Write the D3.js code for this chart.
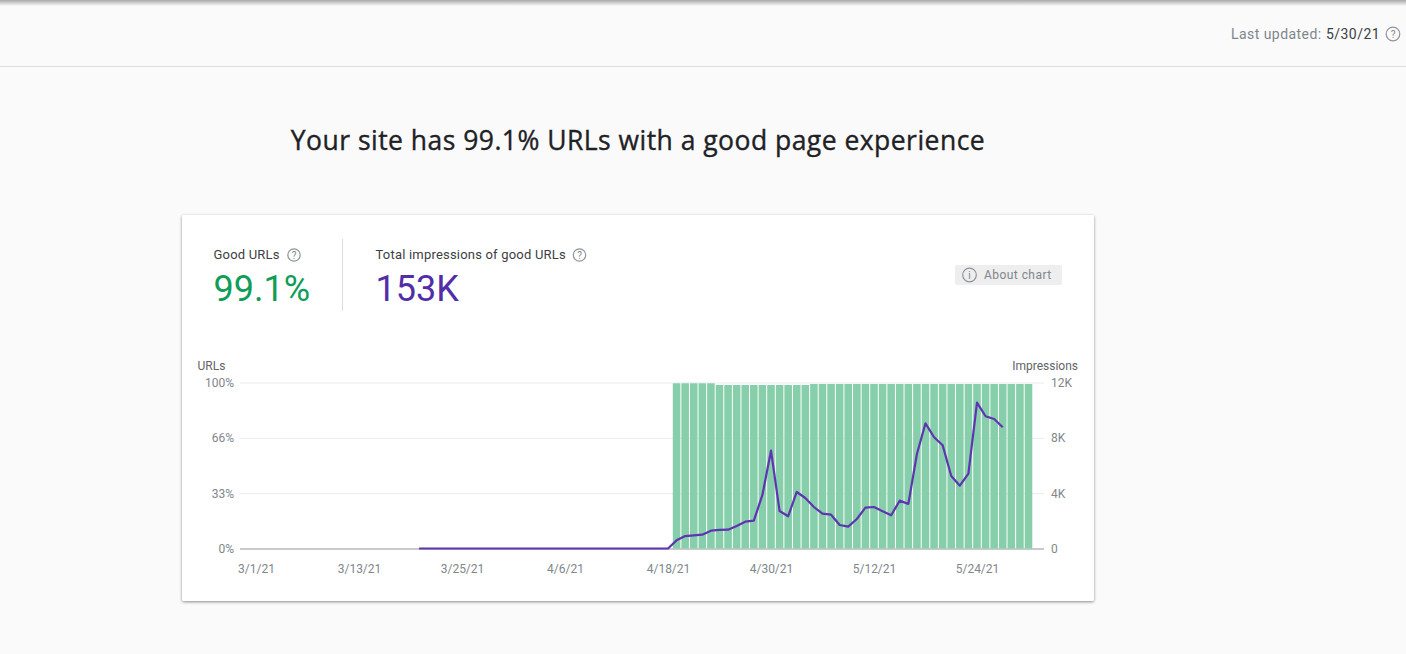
<!DOCTYPE html>
<html>
<head>
<meta charset="utf-8">
<script src="https://cdn.jsdelivr.net/npm/d3@7"></script>
<style>
  html, body { margin: 0; padding: 0; background: #fafafa; overflow: hidden; }
  svg { display: block; font-family: Roboto, sans-serif; }
  .axis text { font-size: 12px; fill: #80868b; font-family: Roboto, sans-serif; }
  .axis .domain { display: none; }
</style>
</head>
<body>
<div id="chart"></div>
<script>
// Step 1: the numbers
var xTickLabels = ["3/1/21", "3/13/21", "3/25/21", "4/6/21", "4/18/21", "4/30/21", "5/12/21", "5/24/21"];
var urlTicks = [0, 33.33, 66.66, 100];
var impressionTicks = [0, 4000, 8000, 12000];

// good urls %, one bar a day starting 4/19/21
var barStart = "4/19/21";
var goodUrls = [
  99.5, 99.5, 99.5, 99.5, 99.5, 98.5, 98.5, 98.5, 98.5, 98.5, 98.5, 98.5,
  98.5, 98.5, 98.5, 98.5, 99.1, 99.1, 99.1, 99.1, 99.1, 99.1, 99.1, 99.1,
  99.1, 99.1, 99.1, 99.1, 99.1, 99.1, 99.1, 99.1, 99.1, 99.1, 99.1, 99.1,
  99.1, 99.1, 99.1, 99.1, 99.1, 99.1
];

// impressions, one point a day starting 3/20/21
var lineStart = "3/20/21";
var impressions = [
  0, 0, 0, 0, 0, 0, 0, 0, 0, 0, 0, 0, 0, 0, 0, 0, 0, 0, 0, 0,
  0, 0, 0, 0, 0, 0, 0, 0, 0, 0,
  590, 900, 950, 1000, 1290, 1340, 1360, 1630, 1940, 2010, 3870, 7070,
  2710, 2330, 4085, 3650, 3000, 2520, 2445, 1700, 1580, 2130, 2950, 3000,
  2690, 2400, 3460, 3220, 6830, 9050, 8040, 7460, 5240, 4540, 5410, 10540,
  9560, 9360, 8760
];

var parseDate = d3.timeParse("%-m/%-d/%y");
var width = 1406, height = 654;

// Step 2: svg and page furniture
var svg = d3.select("#chart").append("svg")
  .attr("width", width)
  .attr("height", height);

var defs = svg.append("defs");
var topShade = defs.append("linearGradient").attr("id", "topShade")
  .attr("x1", 0).attr("x2", 0).attr("y1", 0).attr("y2", 1);
topShade.append("stop").attr("offset", "0%").attr("stop-color", "#a8a8a8");
topShade.append("stop").attr("offset", "100%").attr("stop-color", "#fafafa");

var cardShadow = defs.append("filter").attr("id", "cardShadow")
  .attr("x", "-3%").attr("y", "-3%").attr("width", "106%").attr("height", "106%");
cardShadow.append("feDropShadow")
  .attr("dx", 0).attr("dy", 1)
  .attr("stdDeviation", 1.8)
  .attr("flood-color", "#000")
  .attr("flood-opacity", 0.45);

svg.append("rect").attr("width", width).attr("height", height).attr("fill", "#fafafa");
svg.append("rect").attr("width", width).attr("height", 6).attr("fill", "url(#topShade)");
svg.append("line").attr("x1", 0).attr("x2", width).attr("y1", 66.5).attr("y2", 66.5)
  .attr("stroke", "#dedede");

function helpIcon(x, y, label, r) {
  svg.append("circle").attr("cx", x).attr("cy", y).attr("r", r || 6.2)
    .attr("fill", "none").attr("stroke", "#8f9499").attr("stroke-width", 1.2);
  svg.append("text").attr("x", x).attr("y", y + 3.6)
    .attr("text-anchor", "middle")
    .attr("font-size", "10px")
    .attr("fill", "#80868b")
    .text(label || "?");
}

svg.append("text").attr("x", 1231).attr("y", 39)
  .attr("font-size", "14px").attr("letter-spacing", "0.45px").attr("fill", "#80868b").text("Last updated:");
svg.append("text").attr("x", 1326).attr("y", 39)
  .attr("font-size", "14px").attr("letter-spacing", "0.45px").attr("fill", "#3c4043").text("5/30/21");
helpIcon(1393, 34, "?", 6.8);

svg.append("text").attr("x", 638).attr("y", 150)
  .attr("text-anchor", "middle")
  .attr("font-family", "'Open Sans', sans-serif")
  .attr("font-size", "26.5px")
  .attr("letter-spacing", "0.47px")
  .attr("fill", "#202124")
  .attr("stroke", "#202124")
  .attr("stroke-width", 0.35)
  .text("Your site has 99.1% URLs with a good page experience");

// Step 3: the card
svg.append("rect").attr("x", 182).attr("y", 215).attr("width", 912).attr("height", 386)
  .attr("rx", 2).attr("fill", "#fff").attr("filter", "url(#cardShadow)");

svg.append("text").attr("x", 213.5).attr("y", 259)
  .attr("font-size", "13px").attr("letter-spacing", "0.2px").attr("fill", "#3c4043").text("Good URLs");
helpIcon(294, 255);
svg.append("text").attr("x", 213.5).attr("y", 301)
  .attr("font-size", "36px").attr("fill", "#0f9d58").text("99.1%");

svg.append("line").attr("x1", 342.5).attr("x2", 342.5).attr("y1", 239).attr("y2", 311)
  .attr("stroke", "#dadce0");

svg.append("text").attr("x", 375.5).attr("y", 259)
  .attr("font-size", "13px").attr("letter-spacing", "0.2px").attr("fill", "#3c4043").text("Total impressions of good URLs");
helpIcon(579.5, 255);
svg.append("text").attr("x", 375.5).attr("y", 301)
  .attr("font-size", "36px").attr("fill", "#512da8").text("153K");

svg.append("rect").attr("x", 955).attr("y", 265).attr("width", 107).attr("height", 20)
  .attr("rx", 2).attr("fill", "#eeeeee");
helpIcon(969.5, 275, "i", 6.8);
svg.append("text").attr("x", 984).attr("y", 279)
  .attr("font-size", "12px").attr("letter-spacing", "0.45px").attr("fill", "#80868b").text("About chart");

// Step 4: scales
var xScale = d3.scaleTime()
  .domain([parseDate("3/1/21"), parseDate("5/24/21")])
  .range([256, 977]);
var dayWidth = xScale(parseDate("3/2/21")) - xScale(parseDate("3/1/21"));
var urlScale = d3.scaleLinear().domain([0, 100]).range([548.5, 382.5]);
var impressionScale = d3.scaleLinear().domain([0, 12000]).range([548.5, 382.5]);

function dayAfter(start, i) {
  return d3.timeDay.offset(parseDate(start), i);
}

// Step 5: axes
var gridLeft = 240, gridRight = 1044;

var rightAxis = d3.axisRight(impressionScale)
  .tickValues(impressionTicks)
  .tickSize(0)
  .tickPadding(7)
  .tickFormat(function(d) { return d === 0 ? "0" : (d / 1000) + "K"; });
svg.append("g").attr("class", "axis")
  .attr("transform", "translate(" + gridRight + ",0)")
  .call(rightAxis)
  .call(function(g) {
    g.selectAll("line")
      .attr("x2", gridLeft - gridRight)
      .attr("stroke", function(d) { return d === 0 ? "#8f9499" : "#ebebeb"; });
  });

var leftAxis = d3.axisLeft(urlScale)
  .tickValues(urlTicks)
  .tickSize(0)
  .tickPadding(6)
  .tickFormat(function(d) { return Math.floor(d) + "%"; });
svg.append("g").attr("class", "axis")
  .attr("transform", "translate(" + gridLeft + ",0)")
  .call(leftAxis);

var bottomAxis = d3.axisBottom(xScale)
  .tickValues(xTickLabels.map(parseDate))
  .tickSize(0)
  .tickPadding(0)
  .tickFormat(function(d, i) { return xTickLabels[i]; });
svg.append("g").attr("class", "axis")
  .attr("transform", "translate(0,564)")
  .call(bottomAxis);

svg.append("text").attr("x", 197.5).attr("y", 370)
  .attr("font-size", "12px").attr("fill", "#5f6368").text("URLs");
svg.append("text").attr("x", 1078).attr("y", 370)
  .attr("text-anchor", "end")
  .attr("font-size", "12px").attr("fill", "#5f6368").text("Impressions");

// Step 6: bars and line
svg.append("g").selectAll("rect")
  .data(goodUrls)
  .enter()
  .append("rect")
  .attr("x", function(d, i) { return xScale(dayAfter(barStart, i)) - dayWidth / 2 + 0.5; })
  .attr("y", function(d) { return urlScale(d); })
  .attr("width", dayWidth - 1)
  .attr("height", function(d) { return urlScale(0) - urlScale(d); })
  .attr("rx", 0.5)
  .attr("fill", "#87ceab");

var impressionLine = d3.line()
  .x(function(d, i) { return xScale(dayAfter(lineStart, i)); })
  .y(function(d) { return impressionScale(d); });

svg.append("path")
  .datum(impressions)
  .attr("d", impressionLine)
  .attr("fill", "none")
  .attr("stroke", "#5e35b1")
  .attr("stroke-width", 2.2)
  .attr("stroke-linejoin", "round");
</script>
</body>
</html>
